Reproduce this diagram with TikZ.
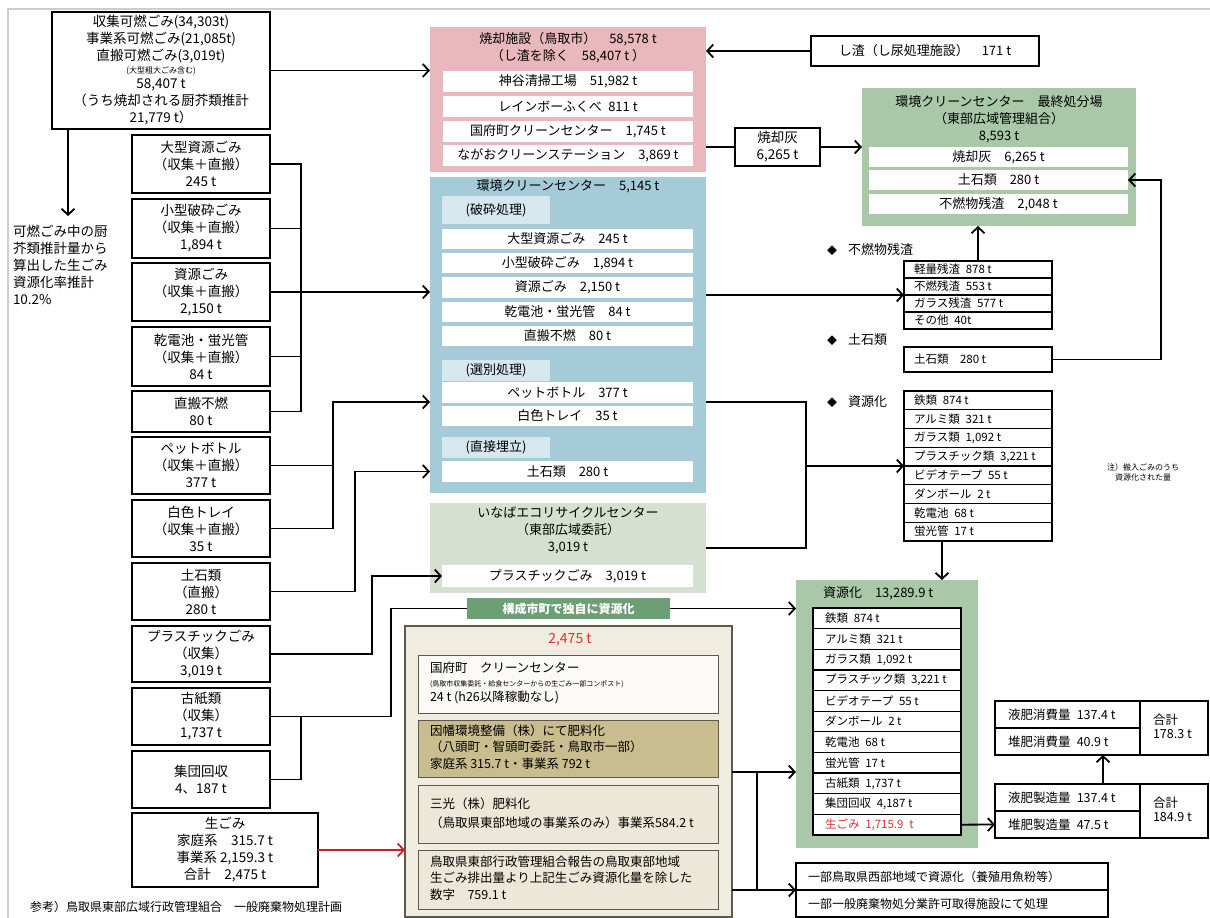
\documentclass[tikz,border=0pt]{standalone}
\usepackage{fontspec}
\setmainfont{Noto Sans CJK JP}
\setsansfont{Noto Sans CJK JP}
\usetikzlibrary{arrows.meta}
\definecolor{pinkbg}{RGB}{232,184,188}
\definecolor{bluebg}{RGB}{166,203,216}
\definecolor{bluelab}{RGB}{214,231,238}
\definecolor{greenbg}{RGB}{168,200,168}
\definecolor{inababg}{RGB}{214,224,208}
\definecolor{koseibg}{RGB}{108,160,116}
\definecolor{beigebg}{RGB}{240,237,224}
\definecolor{tanbg}{RGB}{201,188,143}
\definecolor{beigein}{RGB}{236,231,215}
\definecolor{kokufu}{RGB}{251,250,246}
\definecolor{beigeline}{RGB}{90,90,80}
\definecolor{redtxt}{RGB}{222,50,50}
\definecolor{redline}{RGB}{210,30,30}
\definecolor{framegray}{RGB}{205,205,205}
\newcommand\bx[7]{\node[#1,anchor=north west,minimum width={(#5-#3)*1pt},minimum height={(#6-#4)*1pt}] (#2) at (#3,#4) {#7};}
\newcommand\lrw[8]{\bx{#1,inner xsep=#7pt}{#2}{#3}{#4}{#5}{#6}{\makebox[\dimexpr #5pt-#3pt-#7pt-#7pt\relax][l]{#8}}}
\begin{document}
\begin{tikzpicture}[x=1pt,y=-1pt,
  every node/.style={inner sep=0pt,outer sep=0pt},
  f13/.style={font=\fontsize{13}{17}\selectfont},
  lbox/.style={draw,line width=1.8pt,fill=white,font=\fontsize{13.5}{17}\selectfont,align=center},
  wrow/.style={fill=white,f13},
  lab/.style={fill=bluelab,f13},
  lrow/.style={draw,line width=1.3pt,fill=white,font=\fontsize{11.5}{14}\selectfont},
  bin/.style={draw=beigeline,line width=1pt,font=\fontsize{12.5}{16.5}\selectfont},
  brow/.style={draw,line width=1.3pt,fill=white,font=\fontsize{12}{14}\selectfont},
  cell/.style={draw,line width=1.5pt,fill=white,font=\fontsize{12.5}{14}\selectfont},
  ln/.style={line width=1.8pt},
  arr/.style={line width=1.8pt,-{Straight Barb[length=6pt,width=13pt]}}]
\useasboundingbox (0,0) rectangle (1210,918);
\draw[draw=framegray,line width=2pt] (8,918) -- (8,9) -- (1210,9);

% ---------- left column ----------
\bx{lbox}{src1}{52}{12}{270}{129}{収集可燃ごみ(34,303t)\\事業系可燃ごみ(21,085t)\\直搬可燃ごみ(3,019t)\\[-4pt]{\fontsize{8}{9}\selectfont (大型粗大ごみ含む)}\\[-2pt]58,407 t\\（うち焼却される厨芥類推計\\21,779 t）}
\node[font=\fontsize{13.5}{17}\selectfont,align=left,anchor=north west] (ratetext) at (13,225) {可燃ごみ中の厨\\芥類推計量から\\算出した生ごみ\\資源化率推計\\10.2\%};
\coordinate (rateTop) at (68,216);
\bx{lbox}{oogata}{132}{135}{270}{193}{大型資源ごみ\\（収集＋直搬）\\245 t}
\bx{lbox}{kogata}{132}{199}{270}{258}{小型破砕ごみ\\（収集＋直搬）\\1,894 t}
\bx{lbox}{shigen}{132}{263}{270}{321}{資源ごみ\\（収集＋直搬）\\2,150 t}
\bx{lbox}{denchi}{132}{327}{270}{386}{乾電池・蛍光管\\（収集＋直搬）\\84 t}
\bx{lbox}{chokuhan}{132}{391}{270}{432}{直搬不燃\\80 t}
\bx{lbox}{pet}{132}{437}{270}{494}{ペットボトル\\（収集＋直搬）\\377 t}
\bx{lbox}{tray}{132}{500}{270}{557}{白色トレイ\\（収集＋直搬）\\35 t}
\bx{lbox}{doseki}{132}{563}{270}{620}{土石類\\（直搬）\\280 t}
\bx{lbox}{plastic}{132}{626}{270}{682}{プラスチックごみ\\（収集）\\3,019 t}
\bx{lbox}{koshi}{132}{688}{270}{745}{古紙類\\（収集）\\1,737 t}
\bx{lbox}{shudan}{132}{751}{270}{808}{集団回収\\4、187 t}
\bx{lbox}{namagomi}{132}{813}{318}{887}{生ごみ\\家庭系　315.7 t\\事業系 2,159.3 t\\合計　2,475 t}
\node[anchor=west,font=\fontsize{12}{14}\selectfont] (foot) at (30,907) {参考）鳥取県東部広域行政管理組合　一般廃棄物処理計画};

% ---------- incineration ----------
\bx{fill=pinkbg}{burn}{430}{27}{706}{172}{}
\node[f13,align=center] (burnT) at (568,47.5) {焼却施設（鳥取市）　58,578 t\\（し渣を除く　58,407 t ）};
\bx{wrow}{b1}{443}{71}{693}{92}{神谷清掃工場　51,982 t}
\bx{wrow}{b2}{443}{96}{693}{117}{レインボーふくべ\enspace 811 t}
\bx{wrow}{b3}{443}{121}{693}{142}{国府町クリーンセンター　1,745 t}
\bx{wrow}{b4}{443}{145}{693}{166}{ながおクリーンステーション　3,869 t}
\bx{draw,line width=1.2pt,fill=white,f13}{shisa}{811}{36}{1039}{66}{し渣（し尿処理施設）　171 t}
\bx{lbox}{ash}{735}{128}{820}{166}{焼却灰\\6,265 t}

% ---------- final disposal ----------
\bx{fill=greenbg}{final}{862}{88}{1136}{226}{}
\node[f13,align=center] (finalT) at (999,119.5) {環境クリーンセンター　最終処分場\\（東部広域管理組合）\\8,593 t};
\bx{wrow}{fr1}{869}{147}{1128}{167}{焼却灰　6,265 t}
\bx{wrow}{fr2}{869}{170}{1128}{190}{土石類　280 t}
\bx{wrow}{fr3}{869}{194}{1128}{214}{不燃物残渣　2,048 t}

% ---------- clean center ----------
\bx{fill=bluebg}{blue}{430}{177}{706}{493}{}
\node[f13] (blueT) at (568,186) {環境クリーンセンター　5,145 t};
\bx{lab}{lab1}{442}{196}{550}{224}{(破砕処理)}
\bx{wrow}{c1}{442}{229}{693}{249}{大型資源ごみ　245 t}
\bx{wrow}{c2}{442}{253}{693}{273}{小型破砕ごみ　1,894 t}
\bx{wrow}{c3}{442}{277}{693}{298}{資源ごみ　2,150 t}
\bx{wrow}{c4}{442}{302}{693}{322}{乾電池・蛍光管　84 t}
\bx{wrow}{c5}{442}{326}{693}{346}{直搬不燃　80 t}
\bx{lab}{lab2}{442}{360}{550}{381}{(選別処理)}
\bx{wrow}{c6}{442}{382}{693}{403}{ペットボトル　377 t}
\bx{wrow}{c7}{442}{406}{693}{426}{白色トレイ　35 t}
\bx{lab}{lab3}{442}{437}{550}{458}{(直接埋立)}
\bx{wrow}{c8}{442}{461}{693}{482}{土石類　280 t}

% ---------- inaba ----------
\bx{fill=inababg}{inaba}{430}{503}{706}{593}{}
\node[f13,align=center] (inabaT) at (568,530) {いなばエコリサイクルセンター\\（東部広域委託）\\3,019 t};
\bx{wrow}{in1}{442}{565}{693}{587}{プラスチックごみ　3,019 t}

\bx{fill=koseibg,text=white,font=\fontsize{12}{14}\selectfont\bfseries}{kosei}{467}{598}{670}{619}{構成市町で独自に資源化}

% ---------- beige (namagomi) ----------
\bx{draw=beigeline,line width=1.2pt,fill=beigebg}{beige}{405}{626}{732}{917}{}
\node[font=\fontsize{14}{16}\selectfont,text=redtxt] (bT) at (570,640) {2,475 t};
\lrw{bin,fill=kokufu,font=\fontsize{12.5}{14}\selectfont}{k1}{418}{655}{718}{713}{12}{\begin{tabular}{@{}l@{}}国府町　クリーンセンター\\{\fontsize{7}{8}\selectfont (鳥取市収集委託・給食センターからの生ごみ一部コンポスト)}\\24 t (h26以降稼動なし)\end{tabular}}
\lrw{bin,fill=tanbg}{k2}{418}{720}{718}{777}{12}{\begin{tabular}{@{}l@{}}因幡環境整備（株）にて肥料化\\（八頭町・智頭町委託・鳥取市一部）\\家庭系 315.7 t・事業系 792 t\end{tabular}}
\lrw{bin,fill=beigein,font=\fontsize{12.5}{19}\selectfont}{k3}{418}{785}{718}{843}{12}{\begin{tabular}{@{}l@{}}三光（株）肥料化\\（鳥取県東部地域の事業系のみ）事業系584.2 t\end{tabular}}
\lrw{bin,fill=beigein}{k4}{418}{850}{718}{909}{12}{\begin{tabular}{@{}l@{}}鳥取県東部行政管理組合報告の鳥取東部地域\\生ごみ排出量より上記生ごみ資源化量を除した\\数字　759.1 t\end{tabular}}

% ---------- right lists ----------
\node[f13,anchor=west] (dia1) at (827,250) {{\fontsize{10}{10}\selectfont ◆}\hspace{11pt}不燃物残渣};
\lrw{lrow}{fl1}{904}{261}{1052}{278}{10}{軽量残渣\enspace 878 t}
\lrw{lrow}{fl2}{904}{278}{1052}{295}{10}{不燃残渣\enspace 553 t}
\lrw{lrow}{fl3}{904}{295}{1052}{312}{10}{ガラス残渣\enspace 577 t}
\lrw{lrow}{fl4}{904}{312}{1052}{329}{10}{その他\enspace 40t}
\node[f13,anchor=west] (dia2) at (827,340) {{\fontsize{10}{10}\selectfont ◆}\hspace{11pt}土石類};
\lrw{lrow}{ds}{904}{347}{1052}{372}{10}{土石類\enspace\enspace 280 t}
\node[f13,anchor=west] (dia3) at (827,402) {{\fontsize{10}{10}\selectfont ◆}\hspace{11pt}資源化};
\lrw{lrow}{rl1}{904}{391}{1052}{409.75}{10}{鉄類\enspace 874 t}
\lrw{lrow}{rl2}{904}{409.75}{1052}{428.5}{10}{アルミ類\enspace 321 t}
\lrw{lrow}{rl3}{904}{428.5}{1052}{447.25}{10}{ガラス類\enspace 1,092 t}
\lrw{lrow}{rl4}{904}{447.25}{1052}{466}{10}{プラスチック類\enspace 3,221 t}
\lrw{lrow}{rl5}{904}{466}{1052}{484.75}{10}{ビデオテープ\enspace 55 t}
\lrw{lrow}{rl6}{904}{484.75}{1052}{503.5}{10}{ダンボール\enspace 2 t}
\lrw{lrow}{rl7}{904}{503.5}{1052}{522.25}{10}{乾電池\enspace 68 t}
\lrw{lrow}{rl8}{904}{522.25}{1052}{541}{10}{蛍光管\enspace 17 t}
\node[font=\fontsize{8}{10}\selectfont,align=center] (note) at (1143,472) {注）搬入ごみのうち\\資源化された量};

% ---------- resource box ----------
\bx{fill=greenbg}{res}{796}{580}{978}{848}{}
\node[f13,anchor=west] (resT) at (823,593) {資源化　13,289.9 t};
\lrw{lrow}{rr1}{813}{608}{961}{628.64}{12}{鉄類\enspace 874 t}
\lrw{lrow}{rr2}{813}{628.64}{961}{649.27}{12}{アルミ類\enspace 321 t}
\lrw{lrow}{rr3}{813}{649.27}{961}{669.91}{12}{ガラス類\enspace 1,092 t}
\lrw{lrow}{rr4}{813}{669.91}{961}{690.55}{12}{プラスチック類\enspace 3,221 t}
\lrw{lrow}{rr5}{813}{690.55}{961}{711.18}{12}{ビデオテープ\enspace 55 t}
\lrw{lrow}{rr6}{813}{711.18}{961}{731.82}{12}{ダンボール\enspace 2 t}
\lrw{lrow}{rr7}{813}{731.82}{961}{752.45}{12}{乾電池\enspace 68 t}
\lrw{lrow}{rr8}{813}{752.45}{961}{773.09}{12}{蛍光管\enspace 17 t}
\lrw{lrow}{rr9}{813}{773.09}{961}{793.73}{12}{古紙類\enspace 1,737 t}
\lrw{lrow}{rr10}{813}{793.73}{961}{814.36}{12}{集団回収\enspace 4,187 t}
\lrw{lrow}{rr11}{813}{814.36}{961}{835}{12}{\textcolor{redtxt}{生ごみ\enspace 1,715.9\enspace t}}

% ---------- fertilizer ----------
\lrw{cell}{u1}{995}{701}{1140}{728}{13}{液肥消費量\enspace 137.4 t}
\lrw{cell}{u2}{995}{728}{1140}{755}{13}{堆肥消費量\enspace 40.9 t}
\lrw{cell}{u3}{1140}{701}{1208}{755}{13}{\begin{tabular}{@{}l@{}}合計\\178.3 t\end{tabular}}
\lrw{cell}{l1}{995}{784}{1140}{811}{13}{液肥製造量\enspace 137.4 t}
\lrw{cell}{l2}{995}{811}{1140}{838}{13}{堆肥製造量\enspace 47.5 t}
\lrw{cell}{l3}{1140}{784}{1208}{838}{13}{\begin{tabular}{@{}l@{}}合計\\184.9 t\end{tabular}}

\lrw{brow}{bt1}{796}{863}{1108}{890}{12}{一部鳥取県西部地域で資源化（養殖用魚粉等）}
\lrw{brow}{bt2}{796}{890}{1108}{917}{12}{一部一般廃棄物処分業許可取得施設にて処理}

% ---------- connectors ----------
\coordinate (busA) at (301,0);
\coordinate (busB) at (333,0);
\coordinate (busC) at (355,0);
\coordinate (busD) at (372,0);
\coordinate (busF) at (391,0);
\coordinate (busG) at (757,0);
\coordinate (busH) at (1161,0);
\coordinate (busI) at (806,0);
\coordinate (sortIn) at (430,402);
\coordinate (o1) at ([yshift=-23.5pt]k2.east);
\coordinate (rlOut) at ([xshift=-36pt]rl8.south);
\coordinate (lOut) at ([xshift=35.5pt]l1.north);

\draw[arr] (src1.east) -- (burn.west |- src1.east);
\draw[arr] ([xshift=16pt]src1.south west) -- (rateTop);
\draw[ln] (oogata.east) -| (busA |- chokuhan.east) -- (chokuhan.east);
\draw[ln] (kogata.east) -- (kogata.east -| busA);
\draw[ln] (denchi.east) -- (denchi.east -| busA);
\draw[arr] (shigen.east) -- (shigen.east -| blue.west);
\draw[ln] (pet.east) -- (pet.east -| busB);
\draw[arr] (tray.east) -| (busB |- sortIn) -- (sortIn);
\draw[arr] (doseki.east) -| (busC |- c8.west) -- (blue.west |- c8.west);
\draw[arr] (plastic.east) -| (busD |- in1.west) -- (in1.west);
\draw[ln] (shudan.east) -| (busA |- koshi.east);
\draw[ln] (koshi.east) -| (busF |- kosei.west) -- (kosei.west);
\draw[arr] (kosei.east) -- (res.west |- kosei.east);
\draw[arr,draw=redline] (namagomi.east) -- (beige.west |- namagomi.east);
\draw[arr] (shisa.west) -- (burn.east |- shisa.west);
\draw[ln] (burn.east |- ash.west) -- (ash.west);
\draw[arr] (ash.east) -- (final.west |- ash.east);
\draw[arr] (blue.east |- fl3.north west) -- (fl3.north west);
\draw[arr] (fl1.north) -- (fl1.north |- final.south);
\draw[arr] (ds.east) -| (busH |- fr2.east) -- (fr2.east);
\draw[ln] (blue.east |- sortIn) -| (busI |- inaba.east) -- (inaba.east);
\draw[arr] (busI |- rl5.north west) -- (rl5.north west);
\draw[arr] (rlOut) -- (rlOut |- res.north);
\draw[arr] (beige.east |- o1) -- (res.west |- o1);
\draw[arr] (beige.east |- bt1.south west) -- (bt1.south west);
\draw[ln] (busG |- o1) -- (busG |- bt1.south west);
\draw[arr] (rr11.east) -- (l2.west);
\draw[arr] (lOut) -- (lOut |- u2.south);
\end{tikzpicture}
\end{document}
